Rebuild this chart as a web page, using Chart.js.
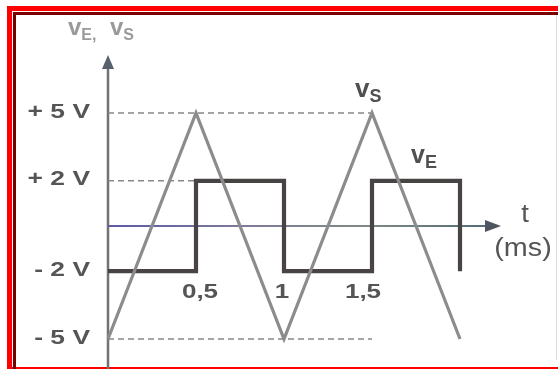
<!DOCTYPE html>
<html>
<head>
<meta charset="utf-8">
<script src="https://cdn.jsdelivr.net/npm/chart.js@4.4.1/dist/chart.umd.min.js"></script>
<style>
html, body { margin: 0; padding: 0; background: #fff; }
#wrap { position: relative; width: 558px; height: 369px; overflow: hidden; background: #fff; }
.outer { position: absolute; left: 7px; top: 6px; width: 600px; height: 356px;
  border-left: 5px solid #ff0000; border-top: 5px solid #ff0000; border-bottom: 3px solid #ff0000; }
.inner { position: absolute; left: 13px; top: 12px; width: 600px; height: 354px;
  border-left: 3px solid #7a0000; border-top: 3px solid #7a0000; }
.edge { position: absolute; left: 556px; top: 15px; width: 1px; height: 345px; background: #dcdcdc; }
#chart { position: absolute; left: 0; top: 0; }
</style>
</head>
<body>
<div id="wrap">
  <div class="outer"></div>
  <div class="inner"></div>
  <div class="edge"></div>
  <canvas id="chart" width="558" height="369"></canvas>
</div>
<script>
// valeurs (t en ms, tensions en V)
const tS = [0, 0.5, 1, 1.5, 2];
const vS = [-5, 5, -5, 5, -5];

const tE = [0, 0.5, 0.5, 1, 1, 1.5, 1.5, 2, 2];
const vE = [-2, -2, 2, 2, -2, -2, 2, 2, -2];

// pointillés de repère : niveau et fin en t
const guideLevels = [5, 2, -5];
const guideEnds = [1.5, 0.5, 1.5];

// graduations
const yTicks = [5, 2, -2, -5];
const yTickLabels = ['+ 5 V', '+ 2 V', '- 2 V', '- 5 V'];
const xTicks = [0.5, 1, 1.5];
const xTickLabels = ['0,5', '1', '1,5'];

function toPoints(xs, ys) {
    return xs.map((x, i) => ({ x: x, y: ys[i] }));
}

const guideSets = guideLevels.map((v, i) => ({
    label: 'guide' + i,
    data: toPoints([0, guideEnds[i]], [v, v]),
    borderColor: '#888888',
    borderWidth: 1.6,
    borderDash: [6, 4],
    pointRadius: 0,
    clip: false
}));

// texte avec indice (vE, vS)
function drawSub(ctx, main, sub, x, y, mainFont, subFont, drop) {
    ctx.font = mainFont;
    ctx.textAlign = 'left';
    ctx.textBaseline = 'alphabetic';
    ctx.fillText(main, x, y);
    const w = ctx.measureText(main).width;
    ctx.font = subFont;
    ctx.fillText(sub, x + w, y + drop);
    return x + w + ctx.measureText(sub).width;
}

function stretchText(ctx, text, x, y, sx, align) {
    ctx.save();
    ctx.translate(x, y);
    ctx.scale(sx, 1);
    ctx.textAlign = align;
    ctx.fillText(text, 0, 0);
    ctx.restore();
}

const axesPlugin = {
    id: 'axesPlugin',
    beforeDatasetsDraw(chart) {
        const ctx = chart.ctx;
        const xs = chart.scales.x, ys = chart.scales.y;
        const x0 = xs.getPixelForValue(0);
        const y0 = ys.getPixelForValue(0);
        const tip = xs.getPixelForValue(2) + 41;
        ctx.save();
        // axe vertical
        ctx.strokeStyle = '#707274';
        ctx.lineWidth = 2.5;
        ctx.beginPath();
        ctx.moveTo(x0, 66);
        ctx.lineTo(x0, 369);
        ctx.stroke();
        ctx.fillStyle = '#58626c';
        ctx.beginPath();
        ctx.moveTo(x0, 55);
        ctx.lineTo(x0 - 6, 69);
        ctx.lineTo(x0 + 6, 69);
        ctx.closePath();
        ctx.fill();
        // axe horizontal
        const g = ctx.createLinearGradient(x0, 0, tip, 0);
        g.addColorStop(0, '#5d5aa6');
        g.addColorStop(0.35, '#7d7b98');
        g.addColorStop(0.65, '#7f8a84');
        g.addColorStop(1, '#4f6878');
        ctx.strokeStyle = g;
        ctx.lineWidth = 2;
        ctx.beginPath();
        ctx.moveTo(x0, y0);
        ctx.lineTo(tip - 14, y0);
        ctx.stroke();
        ctx.fillStyle = '#4e5560';
        ctx.beginPath();
        ctx.moveTo(tip, y0);
        ctx.lineTo(tip - 16, y0 - 6);
        ctx.lineTo(tip - 16, y0 + 6);
        ctx.closePath();
        ctx.fill();
        ctx.restore();
    },
    afterDraw(chart) {
        const ctx = chart.ctx;
        const xs = chart.scales.x, ys = chart.scales.y;
        ctx.save();
        ctx.fillStyle = '#555555';
        ctx.textBaseline = 'middle';
        ctx.font = 'bold 20px "Liberation Sans", Arial, sans-serif';
        yTicks.forEach((v, i) => {
            stretchText(ctx, yTickLabels[i], 90, ys.getPixelForValue(v) - 1, 1.32, 'right');
        });
        const dx = [4, -2, -9];
        xTicks.forEach((t, i) => {
            stretchText(ctx, xTickLabels[i], xs.getPixelForValue(t) + dx[i], 292, 1.3, 'center');
        });
        ctx.font = '25px "Liberation Sans", Arial, sans-serif';
        stretchText(ctx, 't', 525, 215, 1.1, 'center');
        stretchText(ctx, '(ms)', 523, 249, 1.15, 'center');

        // noms des courbes
        ctx.fillStyle = '#505050';
        drawSub(ctx, 'v', 'S', 355, 97, 'bold 26px "Liberation Sans", Arial, sans-serif',
            'bold 18px "Liberation Sans", Arial, sans-serif', 5);
        drawSub(ctx, 'v', 'E', 411, 163, 'bold 25px "Liberation Sans", Arial, sans-serif',
            'bold 18px "Liberation Sans", Arial, sans-serif', 5);

        ctx.fillStyle = '#9a9a9a';
        let x = drawSub(ctx, 'v', 'E', 68, 35, 'bold 24px "Liberation Sans", Arial, sans-serif',
            'bold 16px "Liberation Sans", Arial, sans-serif', 5);
        ctx.font = 'bold 16px "Liberation Sans", Arial, sans-serif';
        ctx.fillText(',', x, 40);
        drawSub(ctx, 'v', 'S', 110, 35, 'bold 24px "Liberation Sans", Arial, sans-serif',
            'bold 16px "Liberation Sans", Arial, sans-serif', 5);
        ctx.restore();
    }
};

new Chart(document.getElementById('chart'), {
    type: 'line',
    data: {
        datasets: [
            {
                label: 'vS',
                data: toPoints(tS, vS),
                borderColor: '#8c8c8c',
                borderWidth: 3.2,
                pointRadius: 0,
                clip: false
            },
            {
                label: 'vE',
                data: toPoints(tE, vE),
                borderColor: '#484444',
                borderWidth: 4.2,
                borderJoinStyle: 'miter',
                pointRadius: 0,
                clip: false
            }
        ].concat(guideSets)
    },
    options: {
        responsive: false,
        animation: false,
        layout: { padding: { left: 108, right: 98, top: 113, bottom: 30 } },
        plugins: { legend: { display: false }, tooltip: { enabled: false } },
        scales: {
            x: { type: 'linear', min: 0, max: 2, display: false },
            y: { type: 'linear', min: -5, max: 5, display: false }
        }
    },
    plugins: [axesPlugin]
});
</script>
</body>
</html>
